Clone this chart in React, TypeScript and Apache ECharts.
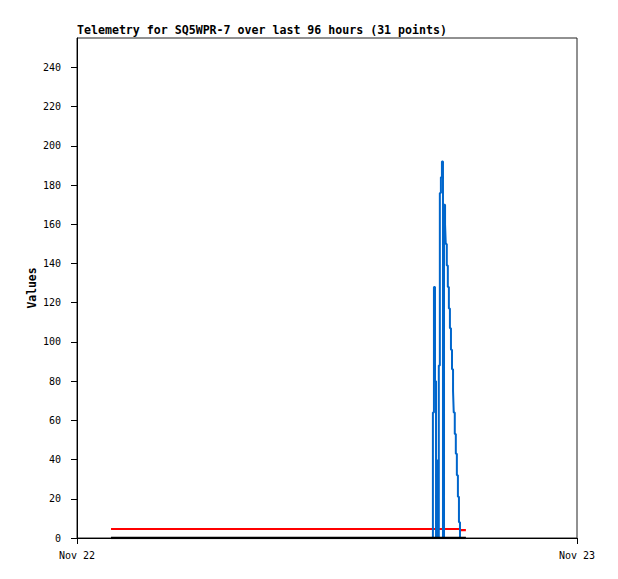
import React, { useEffect, useRef } from "react";
import * as echarts from "echarts";

// Sample times (Nov 22, HH:MM, UTC) and values per telemetry channel
const times: string[] = [
  "01:38", "17:05", "17:08", "17:11", "17:14", "17:17", "17:19", "17:22",
  "17:25", "17:28", "17:31", "17:34", "17:37", "17:40", "17:42", "17:45",
  "17:48", "17:51", "17:54", "17:57", "18:00", "18:03", "18:05", "18:08",
  "18:11", "18:14", "18:17", "18:20", "18:23", "18:32", "18:40",
];
const blueValues: number[] = [
  0, 64, 128, 80, 0, 40, 0, 88,
  176, 184, 192, 0, 170, 160, 150, 139,
  128, 117, 107, 96, 86, 75, 64, 53,
  43, 32, 21, 8, 0, 0, 0,
];
const redValues: number[] = [
  4.6, 4.6, 4.6, 4.6, 4.6, 4.6, 4.6, 4.6,
  4.6, 4.6, 4.6, 4.6, 4.6, 4.6, 4.6, 4.6,
  4.6, 4.6, 4.6, 4.6, 4.6, 4.6, 4.6, 4.6,
  4.6, 4.6, 4.6, 4.6, 4.0, 4.0, 4.0,
];
const blackValues: number[] = [
  0, 0, 0, 0, 0, 0, 0, 0, 0, 0, 0, 0, 0, 0, 0, 0,
  0, 0, 0, 0, 0, 0, 0, 0, 0, 0, 0, 0, 0, 0, 0,
];
const dayLabels: string[] = ["Nov 22", "Nov 23"];
const titleText = "Telemetry for SQ5WPR-7 over last 96 hours (31 points)";

const DAY = 86400000;
const DAY0 = Date.UTC(2024, 10, 22);

function toMs(t: string): number {
  const [h, m] = t.split(":").map(Number);
  return DAY0 + (h * 60 + m) * 60000;
}

function pairs(vals: number[]): [number, number][] {
  return times.map((t, i) => [toMs(t), vals[i]]);
}

const FONT = "DejaVu Sans Mono";

export default function App() {
  const ref = useRef<HTMLDivElement>(null);
  useEffect(() => {
    if (!ref.current) return;
    const chart = echarts.init(ref.current, undefined, { renderer: "svg" });
    chart.setOption({
      animation: false,
      backgroundColor: "#fff",
      title: {
        text: titleText,
        left: 77,
        top: 24,
        padding: 0,
        textStyle: { fontFamily: FONT, fontSize: 11.6, fontWeight: "bold", color: "#000" },
      },
      grid: {
        left: 77,
        top: 38,
        right: 41,
        bottom: 41,
        show: true,
        borderColor: "#222",
        borderWidth: 1,
        backgroundColor: "transparent",
      },
      xAxis: {
        type: "value",
        min: DAY0,
        max: DAY0 + DAY,
        interval: DAY,
        splitLine: { show: false },
        axisLine: { show: true, lineStyle: { color: "#000", width: 1 } },
        axisTick: { show: true, inside: false, length: 6, lineStyle: { color: "#000" } },
        axisLabel: {
          margin: 12,
          fontFamily: FONT,
          fontSize: 10,
          color: "#000",
          formatter: (v: number) => dayLabels[Math.round((v - DAY0) / DAY)] ?? "",
        },
      },
      yAxis: {
        type: "value",
        min: 0,
        max: 255,
        interval: 20,
        name: "Values",
        nameLocation: "middle",
        nameGap: 40,
        nameMoveOverlap: false,
        nameTextStyle: { fontFamily: FONT, fontSize: 11.4, fontWeight: "bold", color: "#000" },
        splitLine: { show: false },
        axisLine: { show: true, lineStyle: { color: "#000", width: 1 } },
        axisTick: { show: true, inside: false, length: 6, lineStyle: { color: "#000" } },
        axisLabel: {
          margin: 16,
          fontFamily: FONT,
          fontSize: 10,
          color: "#000",
          showMaxLabel: false,
        },
      },
      series: [
        {
          type: "line",
          step: "end",
          data: pairs(redValues),
          showSymbol: false,
          lineStyle: { color: "#ff0000", width: 2.2 },
          z: 2,
        },
        {
          type: "line",
          step: "end",
          data: pairs(blueValues),
          showSymbol: false,
          lineStyle: { color: "#0066cc", width: 2 },
          z: 3,
        },
        {
          type: "line",
          step: "end",
          data: pairs(blackValues),
          showSymbol: false,
          lineStyle: { color: "#000000", width: 2.5 },
          z: 4,
        },
      ],
    });
    return () => chart.dispose();
  }, []);
  return (
    <div
      ref={ref}
      style={{ position: "fixed", left: 0, top: 0, width: 618, height: 579, background: "#fff" }}
    />
  );
}
